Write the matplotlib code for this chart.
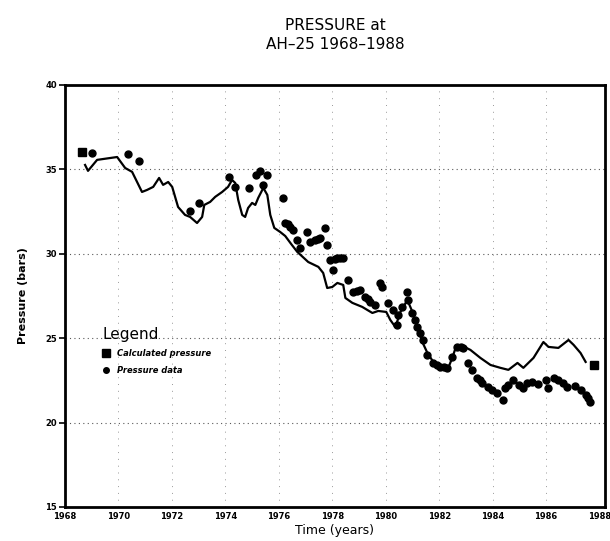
import matplotlib
matplotlib.use("Agg")
import matplotlib.pyplot as plt
from matplotlib.lines import Line2D

# Calculated pressure (line)
calc_years = [1968.75, 1968.86, 1969.20, 1969.95, 1970.25, 1970.51, 1970.88, 1971.07, 1971.30,
              1971.52, 1971.67, 1971.86, 1972.01, 1972.23, 1972.49, 1972.68, 1972.94, 1973.13,
              1973.21, 1973.43, 1973.62, 1973.88, 1974.10, 1974.25, 1974.37, 1974.48, 1974.63,
              1974.74, 1974.85, 1975.00, 1975.12, 1975.23, 1975.42, 1975.57, 1975.68, 1975.83,
              1976.05, 1976.24, 1976.46, 1976.69, 1977.10, 1977.48, 1977.66, 1977.81, 1978.00,
              1978.19, 1978.41, 1978.49, 1978.75, 1979.12, 1979.50, 1979.72, 1980.02, 1980.17,
              1980.36, 1980.55, 1980.81, 1981.00, 1981.18, 1981.37, 1981.56, 1981.78, 1982.16,
              1982.34, 1982.49, 1982.64, 1982.87, 1983.17, 1983.54, 1983.92, 1984.29, 1984.59,
              1984.93, 1985.15, 1985.53, 1985.90, 1986.09, 1986.46, 1986.84, 1987.03, 1987.29,
              1987.48]
calc_pressure = [35.26, 34.91, 35.56, 35.73, 35.08, 34.85, 33.66, 33.78, 33.96,
                 34.49, 34.08, 34.25, 33.96, 32.77, 32.30, 32.18, 31.82, 32.18,
                 32.89, 33.07, 33.37, 33.66, 33.96, 34.37, 34.19, 33.19, 32.30,
                 32.18, 32.71, 33.01, 32.89, 33.31, 33.90, 33.48, 32.30, 31.53,
                 31.29, 31.05, 30.58, 30.11, 29.51, 29.22, 28.86, 27.97, 28.03,
                 28.27, 28.15, 27.38, 27.09, 26.85, 26.49, 26.61, 26.55, 26.08,
                 25.66, 26.55, 27.26, 26.55, 25.66, 24.77, 24.12, 23.59, 23.35,
                 23.24, 23.83, 24.54, 24.54, 24.30, 23.83, 23.41, 23.24, 23.12,
                 23.53, 23.24, 23.83, 24.77, 24.48, 24.42, 24.89, 24.60, 24.12,
                 23.59]

# Calculated pressure end markers (squares)
sq_years = [1968.64, 1987.78]
sq_pressure = [36.03, 23.41]

# Measured pressure data (dots)
data_years = [1969.01, 1970.36, 1970.77, 1972.68, 1973.02, 1974.14, 1974.37, 1974.89, 1975.15,
              1975.30, 1975.57, 1975.42, 1976.16, 1976.24, 1976.33, 1976.43, 1976.54, 1976.69,
              1976.80, 1977.06, 1977.18, 1977.36, 1977.45, 1977.55, 1977.74, 1977.81, 1977.93,
              1978.04, 1978.12, 1978.19, 1978.30, 1978.41, 1978.60, 1978.79, 1978.92, 1979.05,
              1979.24, 1979.33, 1979.42, 1979.61, 1979.80, 1979.87, 1980.10, 1980.28, 1980.47,
              1980.43, 1980.62, 1980.81, 1980.85, 1981.00, 1981.10, 1981.18, 1981.30, 1981.41,
              1981.56, 1981.78, 1981.92, 1982.04, 1982.18, 1982.31, 1982.49, 1982.68, 1982.80,
              1982.91, 1983.09, 1983.24, 1983.43, 1983.52, 1983.62, 1983.81, 1983.99, 1984.18,
              1984.37, 1984.48, 1984.59, 1984.78, 1984.97, 1985.15, 1985.30, 1985.49, 1985.68,
              1985.98, 1986.09, 1986.28, 1986.46, 1986.65, 1986.80, 1987.10, 1987.29, 1987.48,
              1987.57, 1987.66]
data_pressure = [35.97, 35.91, 35.50, 32.54, 33.01, 34.55, 33.96, 33.90, 34.67,
                 34.91, 34.67, 34.08, 33.31, 31.83, 31.75, 31.59, 31.41, 30.82,
                 30.34, 31.29, 30.70, 30.82, 30.90, 30.94, 31.53, 30.52, 29.63,
                 29.04, 29.70, 29.75, 29.75, 29.75, 28.45, 27.74, 27.80, 27.86,
                 27.44, 27.30, 27.15, 26.97, 28.27, 28.03, 27.09, 26.67, 26.38,
                 25.78, 26.85, 27.74, 27.26, 26.49, 26.05, 25.66, 25.30, 24.89,
                 24.00, 23.53, 23.40, 23.29, 23.26, 23.24, 23.89, 24.48, 24.50,
                 24.42, 23.53, 23.12, 22.64, 22.50, 22.35, 22.11, 21.93, 21.75,
                 21.34, 22.05, 22.23, 22.52, 22.23, 22.05, 22.35, 22.41, 22.29,
                 22.52, 22.05, 22.64, 22.52, 22.35, 22.11, 22.17, 21.93, 21.64,
                 21.45, 21.22]

x_ticks = [1968, 1970, 1972, 1974, 1976, 1978, 1980, 1982, 1984, 1986, 1988]
y_ticks = [15, 20, 25, 30, 35, 40]

fig = plt.figure(figsize=(6.10, 5.41), dpi=100)
ax = fig.add_axes([0.1066, 0.063, 0.885, 0.780])

# faint dotted grid
for yv in [20, 25, 30, 35]:
    ax.axhline(yv, color="0.35", lw=0.8, ls=(0, (1, 3)), zorder=0)
for xv in x_ticks[1:-1]:
    ax.axvline(xv, color="0.6", lw=0.7, ls=(0, (1, 6)), zorder=0)

ax.plot(calc_years, calc_pressure, color="black", lw=1.6, zorder=3)
ax.plot(sq_years, sq_pressure, ls="none", marker="s", ms=6, color="black", zorder=4)
ax.plot(data_years, data_pressure, ls="none", marker="o", ms=5, color="black", zorder=4)

ax.set_xlim(1968, 1988.2)
ax.set_ylim(15, 40)
ax.set_xticks(x_ticks)
ax.set_xticklabels([str(v) for v in x_ticks], fontsize=6, fontweight="bold")
ax.set_yticks(y_ticks)
ax.set_yticklabels([str(v) for v in y_ticks], fontsize=6, fontweight="bold")
ax.tick_params(axis="y", length=4, width=1.2, direction="out", pad=2)
ax.tick_params(axis="x", length=0, pad=4)
for s in ax.spines.values():
    s.set_linewidth(2)

ax.set_xlabel("Time (years)", fontsize=9, labelpad=2)
ax.set_ylabel("Pressure (bars)", fontsize=8, fontweight="bold", labelpad=12)

handles = [Line2D([], [], ls="none", marker="s", ms=6, color="black"),
           Line2D([], [], ls="none", marker="o", ms=4, color="black")]
leg = ax.legend(handles, ["Calculated pressure", "Pressure data"], title="Legend",
                loc="upper left", bbox_to_anchor=(0.055, 0.445), frameon=False,
                prop={"size": 6, "weight": "bold", "style": "italic"},
                title_fontsize=11, alignment="left", handletextpad=0.8,
                labelspacing=0.9, handlelength=1.0)

fig.text(0.55, 0.953, "PRESSURE at", ha="center", va="center", fontsize=11)
fig.text(0.55, 0.917, "AH\u201325 1968\u20131988", ha="center", va="center", fontsize=11)

fig.savefig("out.png", dpi=100)
